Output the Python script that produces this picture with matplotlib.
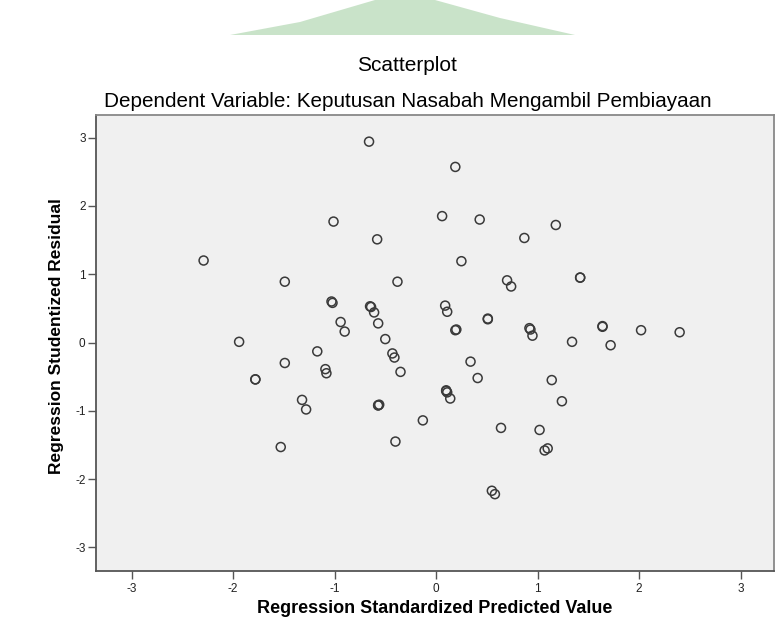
import numpy as np
import matplotlib.pyplot as plt
from matplotlib.patches import Polygon

plt.rcParams['font.family'] = ['Liberation Sans', 'DejaVu Sans']

# standardized predicted value (x) and studentized residual (y)
pred = [-0.66, -1.01, -0.58, -2.29, -1.49, -0.38, -1.03, -1.02, -0.65, -0.64,
        -0.61, -0.94, -0.90, -0.57, -1.94, -0.50, -1.17, -0.43, -0.41, -1.49,
        -0.35, -1.78, -1.78, -1.09, -1.08, -1.32, -1.28, -0.57, -0.57, -0.56,
        -0.13, -0.40, -1.53,
        0.19, 0.06, 0.43, 1.18, 0.87, 0.25, 0.70, 0.74, 1.42, 1.42,
        0.09, 0.11, 0.51, 0.51, 0.19, 0.20, 0.92, 0.93, 0.95, 1.64, 1.64,
        2.02, 2.40, 1.34, 1.72, 0.34, 0.41, 1.14, 0.10, 0.11, 0.14, 0.10,
        1.24, 0.64, 1.02, 1.10, 1.07, 0.55, 0.58]
resid = [2.94, 1.77, 1.51, 1.20, 0.89, 0.89, 0.60, 0.58, 0.53, 0.52,
         0.44, 0.30, 0.16, 0.28, 0.01, 0.05, -0.13, -0.16, -0.22, -0.30,
         -0.43, -0.54, -0.54, -0.39, -0.45, -0.84, -0.98, -0.92, -0.92, -0.91,
         -1.14, -1.45, -1.53,
         2.57, 1.85, 1.80, 1.72, 1.53, 1.19, 0.91, 0.82, 0.95, 0.95,
         0.54, 0.45, 0.34, 0.35, 0.18, 0.19, 0.21, 0.19, 0.10, 0.23, 0.24,
         0.18, 0.15, 0.01, -0.04, -0.28, -0.52, -0.55, -0.71, -0.73, -0.82, -0.70,
         -0.86, -1.25, -1.28, -1.55, -1.58, -2.17, -2.22]

ticks = [-3, -2, -1, 0, 1, 2, 3]

fig = plt.figure(figsize=(7.78, 6.25), dpi=100)

# faint green watermark at the top of the scan
wm = Polygon([[230/778, 1-35/625], [300/778, 1-22/625], [375/778, 1.0],
              [435/778, 1.0], [500/778, 1-18/625], [575/778, 1-35/625]],
             closed=True, transform=fig.transFigure, facecolor='#bcdcbc',
             edgecolor='none', alpha=0.8, zorder=0)
fig.patches.append(wm)

ax = fig.add_axes([0.1234, 0.0869, 0.8715, 0.7291])
ax.set_facecolor('#f0f0f0')

ax.scatter(pred, resid, s=42, facecolors='none', edgecolors='#3a3a3a',
           linewidths=1.1, zorder=3)

ax.set_xlim(-3.35, 3.33)
ax.set_ylim(-3.34, 3.33)
ax.set_xticks(ticks)
ax.set_yticks(ticks)
ax.set_xticklabels([str(t) for t in ticks])
ax.set_yticklabels([str(t) for t in ticks])
ax.tick_params(direction='out', length=6, width=1.0, color='#555555',
               labelsize=8.5, labelcolor='#222222', pad=3)
ax.tick_params(axis='y', pad=1.5)

for side in ['left', 'bottom']:
    ax.spines[side].set_color('#555555')
    ax.spines[side].set_linewidth(1.3)
for side in ['top', 'right']:
    ax.spines[side].set_color('#888888')
    ax.spines[side].set_linewidth(1.3)

ax.set_xlabel('Regression Standardized Predicted Value', fontsize=13,
              fontweight='bold')
ax.xaxis.set_label_coords(0.5, -0.0935)
ax.xaxis.label.set_va('baseline')
ax.set_ylabel('Regression Studentized Residual', fontsize=12.5,
              fontweight='bold')
ax.yaxis.set_label_coords(-0.058, 0.515)
ax.yaxis.label.set_va('center')

fig.text(0.523, 1 - 70.7/625, 'Scatterplot', ha='center', va='baseline',
         fontsize=15)
fig.text(0.5245, 1 - 107.3/625, 'Dependent Variable: Keputusan Nasabah Mengambil Pembiayaan',
         ha='center', va='baseline', fontsize=14.9)

fig.savefig('out.png', dpi=100)
